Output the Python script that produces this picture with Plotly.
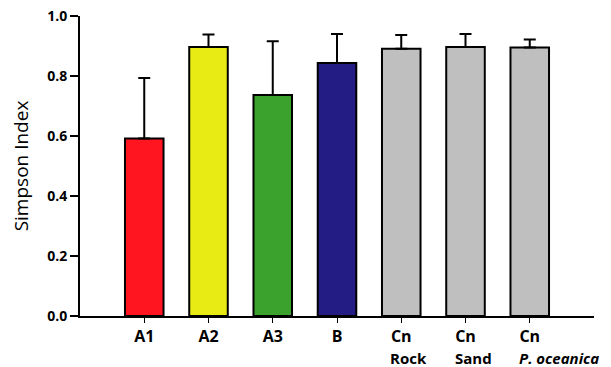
import plotly.graph_objects as go

categories = ["A1", "A2", "A3", "B", "Cn", "Cn", "Cn"]
sublabels = ["", "", "", "", "Rock", "Sand", "<i>P. oceanica</i>"]
values = [0.592, 0.897, 0.737, 0.843, 0.891, 0.897, 0.895]
errors = [0.201, 0.041, 0.179, 0.097, 0.046, 0.043, 0.027]
colors = ["#FF1520", "#E8EC14", "#3AA22D", "#241C85", "#BFBFBF", "#BFBFBF", "#BFBFBF"]
yticks = [0.0, 0.2, 0.4, 0.6, 0.8, 1.0]

idx = list(range(len(categories)))
FONT = "Open Sans"

fig = go.Figure(go.Bar(
    x=idx, y=values, width=0.6,
    marker=dict(color=colors, line=dict(color="black", width=2)),
    error_y=dict(type="data", array=errors, arrayminus=[0]*len(errors),
                 symmetric=False, color="black", thickness=2, width=6),
))

for i, s in enumerate(sublabels):
    if s:
        fig.add_annotation(x=i, y=0, xref="x", yref="paper", text="<b>" + s + "</b>",
                           showarrow=False, xanchor="left", yanchor="top",
                           xshift=-13, yshift=-30,
                           font=dict(family=FONT, size=15, color="black"))

# page body has an 8px margin, so the figure is sized/offset to compensate
fig.update_layout(
    width=603, height=359,
    margin=dict(l=72, r=17, t=8, b=51),
    plot_bgcolor="white", paper_bgcolor="white",
    showlegend=False,
    font=dict(family=FONT, color="black"),
    xaxis=dict(range=[-1, 7], tickvals=idx, ticktext=["<b>" + c + "</b>" for c in categories],
               showline=True, linecolor="black", linewidth=2, ticks="outside",
               ticklen=5, tickwidth=1, tickcolor="black", showgrid=False, zeroline=False,
               automargin=False, ticklabeloverflow="allow",
               tickfont=dict(family=FONT, size=16, color="black")),
    yaxis=dict(range=[0, 1.0], tickvals=yticks, ticktext=["<b>%.1f</b>" % v for v in yticks],
               showline=True, linecolor="black", linewidth=2, ticks="outside",
               ticklen=8, tickwidth=2, tickcolor="black", showgrid=False, zeroline=False,
               automargin=False, ticklabeloverflow="allow",
               tickfont=dict(family=FONT, size=14, color="black"),
               title=dict(text="Simpson Index", font=dict(family=FONT, size=19, color="black"), standoff=18)),
)

fig.write_html("out.html")
